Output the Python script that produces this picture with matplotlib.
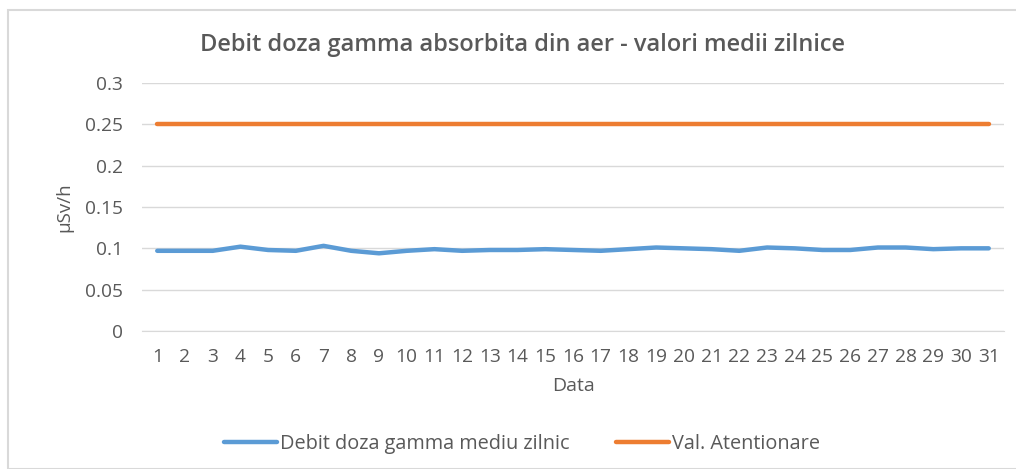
import numpy as np
import matplotlib.pyplot as plt
from matplotlib.patches import Rectangle

zile = list(range(1, 32))
debit_mediu = [0.097, 0.097, 0.097, 0.102, 0.098, 0.097, 0.103, 0.097, 0.094, 0.097,
               0.099, 0.097, 0.098, 0.098, 0.099, 0.098, 0.097, 0.099, 0.101, 0.100,
               0.099, 0.097, 0.101, 0.100, 0.098, 0.098, 0.101, 0.101, 0.099, 0.100, 0.100]
val_atentionare = [0.25] * 31
y_ticks = [0, 0.05, 0.1, 0.15, 0.2, 0.25, 0.3]
y_labels = ['0', '0.05', '0.1', '0.15', '0.2', '0.25', '0.3']

plt.rcParams['font.family'] = ['Open Sans', 'DejaVu Sans']
txt = '#595959'

fig = plt.figure(figsize=(10.16, 4.69), dpi=100)
ax = fig.add_axes([142 / 1016, 1 - 331 / 469, 862 / 1016, 248 / 469])

# chart frame
fig.patches.append(Rectangle((8 / 1016, 0), 1.1, 1 - 10 / 469, transform=fig.transFigure,
                             fill=False, edgecolor='#d9d9d9', linewidth=1.5))

ax.plot(zile, debit_mediu, color='#5b9bd5', linewidth=3.2, solid_capstyle='round',
        label='Debit doza gamma mediu zilnic')
ax.plot(zile, val_atentionare, color='#ed7d31', linewidth=3.2, solid_capstyle='round',
        label='Val. Atentionare')

ax.set_xlim(0.45, 31.55)
ax.set_ylim(0, 0.3)
ax.set_yticks(y_ticks)
ax.set_yticklabels(y_labels)
ax.set_xticks(zile)
ax.set_xticklabels([str(z) for z in zile])
ax.yaxis.grid(True, color='#d9d9d9', linewidth=1)
ax.set_axisbelow(True)
for s in ['top', 'right', 'left']:
    ax.spines[s].set_visible(False)
ax.spines['bottom'].set_color('#d9d9d9')
ax.tick_params(length=0, labelsize=13.8, colors=txt, pad=12)
ax.tick_params(axis='y', pad=14)

ax.set_ylabel('µSv/h', fontsize=13.5, color=txt, labelpad=8)
ax.set_xlabel('Data', fontsize=14, color=txt, labelpad=8)
fig.text(522 / 1016, 1 - 45 / 469, 'Debit doza gamma absorbita din aer - valori medii zilnice',
         ha='center', va='center', fontsize=17, fontweight='semibold', color=txt)

fig.legend(loc='center', bbox_to_anchor=(522 / 1016, 1 - 444 / 469), ncol=2, frameon=False,
           fontsize=14.3, labelcolor=txt, handlelength=2.7, handletextpad=0.15, columnspacing=2.3)

fig.savefig('out.png', dpi=100)
